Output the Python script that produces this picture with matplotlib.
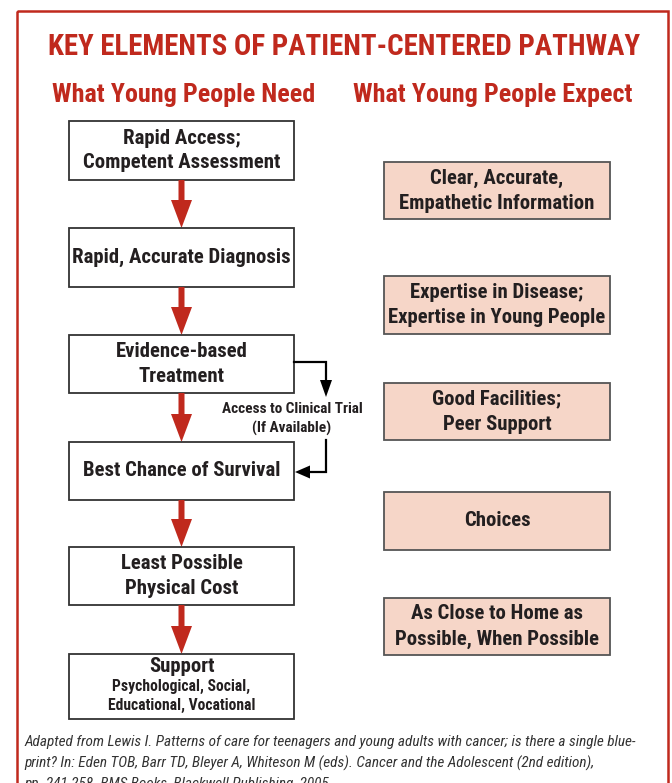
import matplotlib
matplotlib.use("Agg")
import matplotlib.pyplot as plt
from matplotlib import font_manager as fm
from matplotlib.patches import Rectangle, FancyArrow

# ---- pick a condensed sans if one is installed ----
_fl = fm.fontManager.ttflist
_names = {f.name for f in _fl}
STRETCH = 'normal'
if 'Liberation Sans Narrow' in _names:
    FONT = ['Liberation Sans Narrow', 'Liberation Sans']
elif 'Roboto Condensed' in _names:
    FONT = ['Roboto Condensed', 'Roboto']
elif any(f.name == 'DejaVu Sans' and 'ondensed' in str(f.stretch) for f in _fl):
    FONT = ['DejaVu Sans']
    STRETCH = 'condensed'
elif any(f.name == 'Noto Sans' and 'ondensed' in str(f.stretch) for f in _fl):
    FONT = ['Noto Sans']
    STRETCH = 'condensed'
else:
    FONT = ['Liberation Sans', 'DejaVu Sans']

RED = '#C0291D'
DARK = '#231F20'
PEACH = '#F6D6C8'

title = "KEY ELEMENTS OF PATIENT-CENTERED PATHWAY"
left_header = "What Young People Need"
right_header = "What Young People Expect"
need_steps = [
    "Rapid Access;\nCompetent Assessment",
    "Rapid, Accurate Diagnosis",
    "Evidence-based\nTreatment",
    "Best Chance of Survival",
    "Least Possible\nPhysical Cost",
    "Support",
]
support_sub = "Psychological, Social,\nEducational, Vocational"
trial_label = "Access to Clinical Trial\n(If Available)"
expect_items = [
    "Clear, Accurate,\nEmpathetic Information",
    "Expertise in Disease;\nExpertise in Young People",
    "Good Facilities;\nPeer Support",
    "Choices",
    "As Close to Home as\nPossible, When Possible",
]
footnote = ("Adapted from Lewis I. Patterns of care for teenagers and young adults with cancer; is there a single blue-\n"
            "print? In: Eden TOB, Barr TD, Bleyer A, Whiteson M (eds). Cancer and the Adolescent (2nd edition),\n"
            "pp. 241-258. BMS Books, Blackwell Publishing, 2005.")

# layout (pixel units)
W, H = 672, 783
left_x0, left_x1 = 69, 294
left_boxes = [(121, 180), (228, 287), (335, 393), (442, 500), (547, 605), (654, 719)]
right_x0, right_x1 = 384, 610
right_boxes = [(162, 219), (276, 334), (383, 440), (492, 550), (598, 655)]

fig = plt.figure(figsize=(W / 100, H / 100), dpi=100)
ax = fig.add_axes([0, 0, 1, 1])
ax.set_xlim(0, W)
ax.set_ylim(H, 0)
ax.axis('off')
renderer = fig.canvas.get_renderer()


def txt(x, y, s, size, **kw):
    kw.setdefault('ha', 'center')
    kw.setdefault('va', 'center')
    kw.setdefault('fontweight', 'bold')
    return ax.text(x, y, s, fontsize=size, family=FONT, fontstretch=STRETCH, **kw)


def fit_size(s, target, weight='bold', style='normal', base=12.0):
    t = ax.text(0, 0, s, fontsize=base, family=FONT, fontstretch=STRETCH,
                fontweight=weight, fontstyle=style)
    w = t.get_window_extent(renderer).width
    t.remove()
    return base * target / w


# outer border
ax.add_patch(Rectangle((16.5, 11), 651.5, 800, fill=False, edgecolor=RED, linewidth=1.8))

txt(344, 47, title, fit_size(title, 592), color=RED)
hs = min(fit_size(left_header, 264), fit_size(right_header, 282))
txt(184, 95, left_header, hs, color=RED)
txt(493, 95, right_header, hs, color=RED)

box_size = min(fit_size("Competent Assessment", 198), fit_size("Expertise in Young People", 218))
sub_size = fit_size("Educational, Vocational", 148)
trial_size = fit_size("Access to Clinical Trial", 142)
foot_size = fit_size(footnote.split("\n")[0], 612, weight='normal', style='italic')

cx = (left_x0 + left_x1) / 2
for i, (label, (y0, y1)) in enumerate(zip(need_steps, left_boxes)):
    ax.add_patch(Rectangle((left_x0, y0), left_x1 - left_x0, y1 - y0, facecolor='white',
                           edgecolor='#333333', linewidth=1.3))
    if i == len(need_steps) - 1:
        txt(cx, y0 + 13, label, box_size, color=DARK)
        txt(cx, y0 + 42, support_sub, sub_size, color=DARK, linespacing=1.3)
    else:
        txt(cx, (y0 + y1) / 2, label, box_size, color=DARK, linespacing=1.4)
    if i < len(need_steps) - 1:
        ny0 = left_boxes[i + 1][0]
        ax.add_patch(FancyArrow(cx, y1, 0, ny0 - y1, width=6, head_width=21, head_length=28,
                                length_includes_head=True, color=RED, linewidth=0))

cxr = (right_x0 + right_x1) / 2
for label, (y0, y1) in zip(expect_items, right_boxes):
    ax.add_patch(Rectangle((right_x0, y0), right_x1 - right_x0, y1 - y0, facecolor=PEACH,
                           edgecolor='#555555', linewidth=1.3))
    txt(cxr, (y0 + y1) / 2, label, box_size, color=DARK, linespacing=1.4)

# clinical trial connector
ax.plot([left_x1, 326, 326], [362, 362, 384], color='black', linewidth=1.6, solid_joinstyle='miter')
ax.add_patch(FancyArrow(326, 380, 0, 17, width=0.1, head_width=12, head_length=17,
                        length_includes_head=True, color='black', linewidth=0))
txt(292, 419, trial_label, trial_size, color=DARK, linespacing=1.35)
ax.plot([326, 326, 306], [440, 472, 472], color='black', linewidth=1.6, solid_joinstyle='miter')
ax.add_patch(FancyArrow(312, 472, -17, 0, width=0.1, head_width=13, head_length=15,
                        length_includes_head=True, color='black', linewidth=0))

txt(24, 735, footnote, foot_size, ha='left', va='top', color='#333333',
    fontweight='normal', fontstyle='italic', linespacing=1.55)

fig.savefig('out.png', dpi=100)
